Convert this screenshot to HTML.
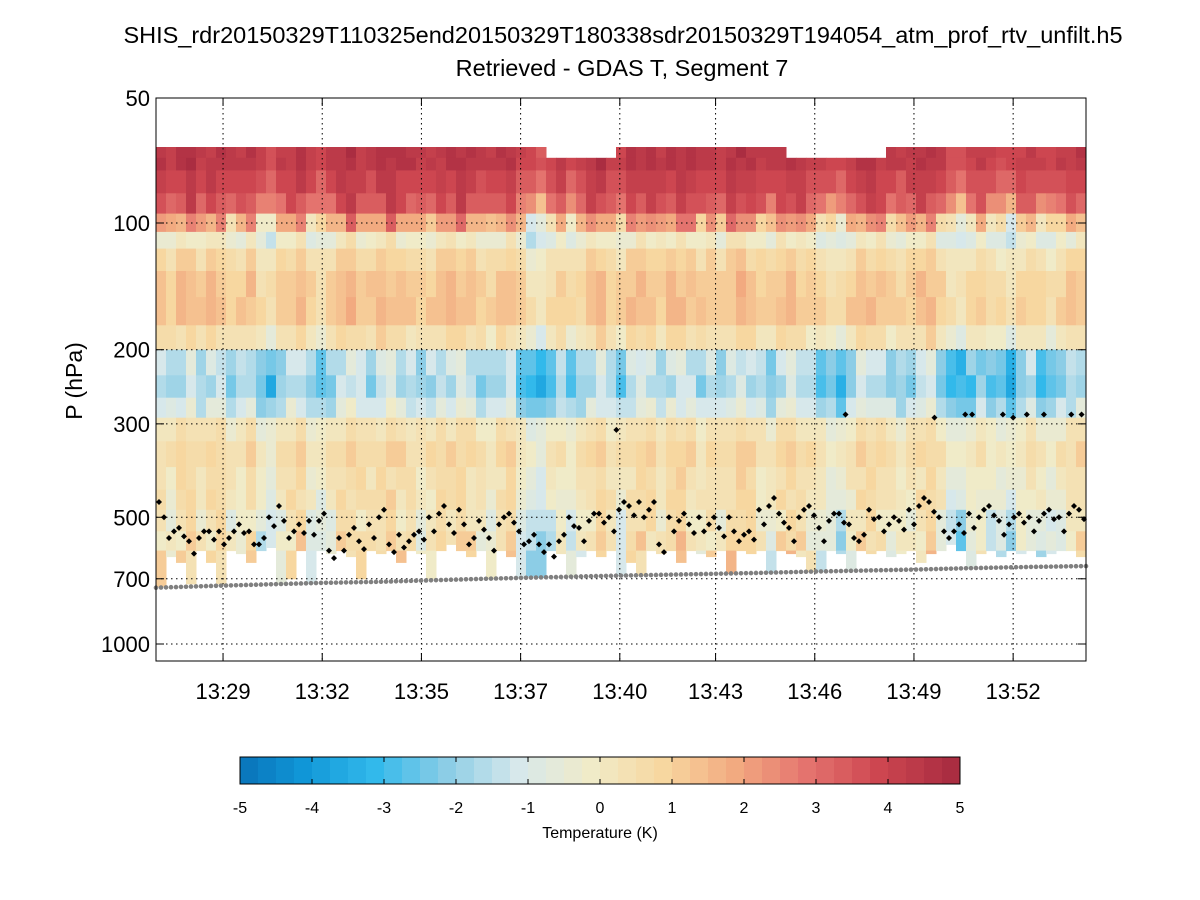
<!DOCTYPE html>
<html><head><meta charset="utf-8"><style>
body{margin:0;background:#fff;}
svg{display:block;font-family:"Liberation Sans",sans-serif;}
</style></head><body>
<svg id="c" width="1200" height="900" viewBox="0 0 1200 900">
<text x="623" y="43" font-size="23.5" text-anchor="middle">SHIS_rdr20150329T110325end20150329T180338sdr20150329T194054_atm_prof_rtv_unfilt.h5</text>
<text x="622" y="76" font-size="23.5" text-anchor="middle">Retrieved - GDAS T, Segment 7</text>
<g id="heat"></g>
<g id="grid"></g>
<g id="marks"></g>
<rect x="156" y="98" width="930" height="563" fill="none" stroke="#000" stroke-width="1"/>
<g id="axes"></g>
<text transform="translate(82,381) rotate(-90)" font-size="23" text-anchor="middle">P (hPa)</text>
<g id="cbar"></g>
<text x="600" y="838" font-size="16" text-anchor="middle">Temperature (K)</text>
</svg>
<script>
// ---- data ----
const levEdges=[66,70,75,85,95,105,115,130,150,175,200,230,260,290,330,380,430,480,540,600,760];
const levMean=[4.5,4.5,4.1,3.6,2.0,0.0,0.9,1.3,1.4,0.6,-1.3,-1.6,-0.9,0.4,0.8,0.5,0.5,0.2,0.4,0.5];
const levWeight=[0.4,0.4,0.5,0.8,1.3,0.6,0.5,0.5,0.5,0.6,0.9,0.9,0.8,0.5,0.5,0.6,0.7,0.9,1.2,1.4];
const colAnom=[0,-0.3,0.2,0.4,-0.2,0.1,0.3,-0.5,-0.3,0.2,-0.8,-1.2,-0.4,0.1,0.3,-0.6,-0.9,-0.3,0.2,0.4,0.1,-0.2,0.3,0.5,0.2,-0.1,-0.4,-0.2,0.1,0.3,0.4,0.2,-0.3,-0.5,0.1,0.2,-0.6,-1.4,-1.6,-0.8,-0.3,-0.9,-0.5,0.2,0.4,-0.2,-0.6,0.1,0.3,0.2,-0.1,0.3,0.4,0.2,-0.3,0.1,-0.4,0.3,0.5,0.2,-0.2,-0.5,0.2,0.3,0.1,-0.2,-0.6,-0.9,-1.2,-0.4,0.2,0.3,0.1,-0.3,-0.5,-0.2,0.1,0.3,-0.4,-1.3,-1.5,-0.8,-0.3,-0.9,-1.1,-1.4,-0.6,-0.2,-0.8,-1.0,-0.5,-0.3,0.1];
const colAnom2=[0.3,-0.4,0.5,-0.2,0.6,-0.5,0.1,0.4,-0.6,0.3,0.5,-0.3,0.2,-0.5,0.6,0.1,-0.4,0.4,-0.2,0.5,-0.6,0.3,0.1,-0.3,0.6,-0.2,0.4,-0.5,0.2,0.5,-0.4,0.1,0.6,-0.3,0.3,-0.6,0.2,0.4,-0.5,0.1,0.5,-0.2,0.3,-0.6,0.4,0.2,-0.4,0.6,-0.1,0.3,-0.5,0.5,-0.3,0.2,0.6,-0.4,0.1,-0.2,0.5,-0.6,0.3,0.4,-0.3,0.1,0.6,-0.5,0.2,-0.1,0.4,-0.4,0.5,0.2,-0.6,0.3,-0.2,0.6,-0.3,0.1,0.4,-0.5,0.2,0.5,-0.4,0.3,-0.1,0.6,-0.3,0.2,-0.5,0.4,0.1,-0.2,0.3];
const topMissing=[0,0,0,0,0,0,0,0,0,0,0,0,0,0,0,0,0,0,0,0,0,0,0,0,0,0,0,0,0,0,0,0,0,0,0,0,0,0,0,1,1,1,1,1,1,1,0,0,0,0,0,0,0,0,0,0,0,0,0,0,0,0,0,1,1,1,1,1,1,1,1,1,1,0,0,0,0,0,0,0,0,0,0,0,0,0,0,0,0,0,0,0,0];
const dataBottom=[730,620,640,720,600,640,720,600,610,640,600,590,720,700,600,720,600,610,600,620,700,600,610,600,640,600,610,700,600,580,600,620,600,700,600,620,700,690,720,600,610,690,620,600,620,600,700,640,690,600,610,600,640,600,610,620,600,680,600,610,600,690,600,610,620,690,690,600,610,700,600,610,600,620,610,600,640,610,600,580,600,700,610,600,620,600,610,600,620,610,600,600,620];
const cloudP=[460,560,530,570,560,540,540,560,520,540,580,500,470,560,520,510,510,600,560,550,570,520,500,580,550,570,540,500,490,520,480,580,510,560,520,490,540,570,580,580,570,500,530,510,490,500,480,470,460,480,580,500,510,520,500,520,530,500,570,540,480,470,490,530,500,470,530,510,490,520,570,480,500,520,510,480,470,460,500,560,520,490,500,470,510,520,490,500,510,480,500,490,480];
const upperT=[40.8,47.5,50.1,51.0,51.2,52.1,52.4,52.8,53.3,54.1,54.4];
const upperP=[310,285,290,285,285,285,290,285,285,285,285];
const sfcP=[735,728,722,716,712,706,700,695,690,686,682,678,673,669,665,660,656,653];
const tickMin=[29.3,32.2,35.1,38.0,40.9,43.7,46.6,49.5,52.4];
const tickLbl=["13:29","13:32","13:35","13:37","13:40","13:43","13:46","13:49","13:52"];
const pTicks=[50,100,200,300,500,700,1000];
const cbTicks=[-5,-4,-3,-2,-1,0,1,2,3,4,5];
// ---- scales ----
const X0=156,X1=1086,Y0=98,Y1=661,T0=27.34,T1=54.53;
const xT=t=>X0+(t-T0)/(T1-T0)*(X1-X0);
const yP=p=>Math.min(Y1,Math.max(Y0,223+421*Math.log10(p/100)));
const stops=[[-5,[8,110,180]],[-4,[16,150,215]],[-3,[50,185,235]],[-2,[140,205,230]],[-1,[215,232,235]],[0,[240,235,200]],[1,[247,215,160]],[2,[242,170,128]],[3,[228,115,110]],[4,[205,70,80]],[5,[170,45,65]]];
function col(v){v=Math.max(-5,Math.min(5,v));v=Math.round(v*4)/4;
 for(let i=0;i<stops.length-1;i++){const a=stops[i],b=stops[i+1];if(v<=b[0]){const f=(v-a[0])/(b[0]-a[0]);return 'rgb('+a[1].map((c,k)=>Math.round(c+(b[1][k]-c)*f)).join(',')+')';}}
 return 'rgb(170,45,65)';}
const NS='http://www.w3.org/2000/svg';
function mk(tag,attrs,parent){const e=document.createElementNS(NS,tag);for(const k in attrs)e.setAttribute(k,attrs[k]);parent.appendChild(e);return e;}
const heat=document.getElementById('heat'),grid=document.getElementById('grid'),marks=document.getElementById('marks'),axes=document.getElementById('axes'),cbar=document.getElementById('cbar');
const nc=colAnom.length,cw=(X1-X0)/nc;
function sfcAt(f){const k=f*(sfcP.length-1),i=Math.min(sfcP.length-2,Math.floor(k)),r=k-i;return sfcP[i]+(sfcP[i+1]-sfcP[i])*r;}
for(let i=0;i<nc;i++){
 const bot=Math.min(dataBottom[i],sfcAt((i+0.5)/nc));
 for(let j=0;j<levMean.length;j++){
  if(j===0&&topMissing[i])continue;
  const pt=levEdges[j],pb=Math.min(levEdges[j+1],bot);if(pb<=pt)continue;
  const a2=colAnom2[(i+j*7)%colAnom2.length];
  const v=levMean[j]+colAnom[i]*levWeight[j]*1.3+a2*levWeight[j]*0.9;
  const r=mk('rect',{x:(X0+i*cw).toFixed(2),y:yP(pt).toFixed(1),width:(cw+0.5).toFixed(2),height:(yP(pb)-yP(pt)+0.5).toFixed(1),fill:col(v)},heat);
  
  
 }
}
// grid
tickMin.forEach(t=>{const l=mk('line',{x1:xT(t),x2:xT(t),y1:Y0,y2:Y1,stroke:'#000','stroke-dasharray':'1.5,3.5','stroke-width':1},grid);
 });
pTicks.forEach(p=>{const l=mk('line',{x1:X0,x2:X1,y1:yP(p),y2:yP(p),stroke:'#000','stroke-dasharray':'1.5,3.5','stroke-width':1},grid);
 });
// surface dots
for(let k=0;k<=186;k++){const f=k/186;const c=mk('circle',{cx:X0+f*(X1-X0),cy:yP(sfcAt(f)),r:2.3,fill:'#808080'},marks);
 }
function diamond(x,y){const d=mk('path',{d:`M${x},${y-3}L${x+3},${y}L${x},${y+3}L${x-3},${y}Z`,fill:'#000'},marks);
 }
cloudP.forEach((p,i)=>{const x=X0+(i+0.5)*(X1-X0)/cloudP.length;diamond(x-2,yP(p));diamond(x+3,yP(p+(i%3===0?40:i%3===1?-20:25)));});
upperT.forEach((t,i)=>diamond(xT(t),yP(upperP[i])));
// axes ticks
tickMin.forEach((t,i)=>{mk('line',{x1:xT(t),x2:xT(t),y1:Y1,y2:Y1-8,stroke:'#000'},axes);mk('line',{x1:xT(t),x2:xT(t),y1:Y0,y2:Y0+8,stroke:'#000'},axes);
 const tx=mk('text',{x:xT(t),y:699,'font-size':22,'text-anchor':'middle'},axes);tx.textContent=tickLbl[i];
 });
pTicks.forEach(p=>{mk('line',{x1:X0,x2:X0+8,y1:yP(p),y2:yP(p),stroke:'#000'},axes);mk('line',{x1:X1,x2:X1-8,y1:yP(p),y2:yP(p),stroke:'#000'},axes);
 const tx=mk('text',{x:150,y:yP(p)+8,'font-size':22,'text-anchor':'end'},axes);tx.textContent=p;
 });
// colorbar
const CB0=240,CB1=960,nseg=40;
for(let k=0;k<nseg;k++){const v=-5+(k+0.5)*10/nseg;const r=mk('rect',{x:CB0+k*(CB1-CB0)/nseg,y:757,width:(CB1-CB0)/nseg+0.5,height:27,fill:col(v)},cbar);
 }
mk('rect',{x:CB0,y:757,width:CB1-CB0,height:27,fill:'none',stroke:'#000'},cbar);
cbTicks.forEach(v=>{const x=CB0+(v+5)/10*(CB1-CB0);mk('line',{x1:x,x2:x,y1:784,y2:779,stroke:'#000'},cbar);mk('line',{x1:x,x2:x,y1:757,y2:762,stroke:'#000'},cbar);
 const tx=mk('text',{x:x,y:813,'font-size':16,'text-anchor':'middle'},cbar);tx.textContent=v;
 });
</script>
</body></html>
